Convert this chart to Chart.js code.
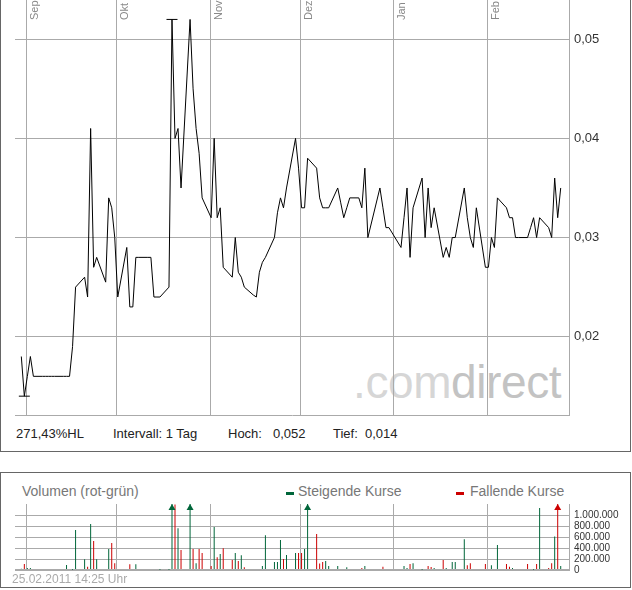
<!DOCTYPE html>
<html>
<head>
<meta charset="utf-8">
<script src="https://cdn.jsdelivr.net/npm/chart.js@4.4.1/dist/chart.umd.min.js"></script>
<style>
body { margin:0; background:#fff; }
#page { position:relative; width:632px; height:590px; overflow:hidden; font-family:"Liberation Sans", Arial, sans-serif; }
.abs { position:absolute; white-space:pre; }
.box { position:absolute; border:1px solid #666; box-sizing:border-box; }
.info { top:427px; font-size:13px; line-height:13px; color:#222; }
.leg { top:484px; font-size:14px; line-height:14px; color:#777; }
.dash { position:absolute; top:492px; width:8px; height:3px; }
#logo { left:353px; top:359px; font-size:46px; line-height:46px; letter-spacing:-0.4px; }
canvas { position:absolute; left:0; }
</style>
</head>
<body>
<div id="page">
  <div class="box" style="left:0;top:-10px;width:631px;height:462px;border-top:none"></div>
  <div class="box" style="left:0;top:472px;width:631px;height:116px"></div>

  <div class="abs" id="logo"><span style="color:#d6d6d6">.com</span><span style="color:#c3c3c3">direct</span></div>

  <canvas id="priceChart" width="632" height="420" style="top:0"></canvas>

  <div class="abs info" style="left:16px">271,43%HL</div>
  <div class="abs info" style="left:113px">Intervall: 1 Tag</div>
  <div class="abs info" style="left:228px">Hoch:</div>
  <div class="abs info" style="left:273px">0,052</div>
  <div class="abs info" style="left:333px">Tief:</div>
  <div class="abs info" style="left:365px">0,014</div>

  <div class="abs leg" style="left:22px">Volumen (rot-grün)</div>
  <div class="dash" style="left:286px;background:#00663a"></div>
  <div class="abs leg" style="left:298px">Steigende Kurse</div>
  <div class="dash" style="left:456px;background:#cc0000"></div>
  <div class="abs leg" style="left:470px">Fallende Kurse</div>

  <canvas id="volChart" width="632" height="110" style="top:470px"></canvas>

  <div class="abs" style="left:12px;top:573px;font-size:12px;line-height:12px;color:#aaa">25.02.2011 14:25 Uhr</div>
</div>

<script>
// Kursverlauf (Tagesschlusskurse)
var priceDates = [
  '2010-08-30','2010-08-31','2010-09-01','2010-09-02','2010-09-03',
  '2010-09-06','2010-09-07','2010-09-08','2010-09-09','2010-09-10',
  '2010-09-13','2010-09-14','2010-09-15','2010-09-16','2010-09-17',
  '2010-09-20','2010-09-21','2010-09-22','2010-09-23','2010-09-24',
  '2010-09-27','2010-09-28','2010-09-29','2010-09-30','2010-10-01',
  '2010-10-04','2010-10-05','2010-10-06','2010-10-07','2010-10-08',
  '2010-10-11','2010-10-12','2010-10-13','2010-10-14','2010-10-15',
  '2010-10-18','2010-10-19','2010-10-20','2010-10-21','2010-10-22',
  '2010-10-25','2010-10-26','2010-10-27','2010-10-28','2010-10-29',
  '2010-11-01','2010-11-02','2010-11-03','2010-11-04','2010-11-05',
  '2010-11-08','2010-11-09','2010-11-10','2010-11-11','2010-11-12',
  '2010-11-15','2010-11-16','2010-11-17','2010-11-18','2010-11-19',
  '2010-11-22','2010-11-23','2010-11-24','2010-11-25','2010-11-26',
  '2010-11-29','2010-11-30','2010-12-01','2010-12-02','2010-12-03',
  '2010-12-06','2010-12-07','2010-12-08','2010-12-09','2010-12-10',
  '2010-12-13','2010-12-14','2010-12-15','2010-12-16','2010-12-17',
  '2010-12-20','2010-12-21','2010-12-22','2010-12-23',
  '2010-12-27','2010-12-28','2010-12-29','2010-12-30',
  '2011-01-03','2011-01-04','2011-01-05','2011-01-06','2011-01-07',
  '2011-01-10','2011-01-11','2011-01-12','2011-01-13','2011-01-14',
  '2011-01-17','2011-01-18','2011-01-19','2011-01-20','2011-01-21',
  '2011-01-24','2011-01-25','2011-01-26','2011-01-27','2011-01-28',
  '2011-01-31','2011-02-01','2011-02-02','2011-02-03','2011-02-04',
  '2011-02-07','2011-02-08','2011-02-09','2011-02-10','2011-02-11',
  '2011-02-14','2011-02-15','2011-02-16','2011-02-17','2011-02-18',
  '2011-02-21','2011-02-22','2011-02-23','2011-02-24','2011-02-25'
];
var priceValues = [
  0.018, 0.014, 0.016, 0.018, 0.016,
  0.016, 0.016, 0.016, 0.016, 0.016,
  0.016, 0.016, 0.016, 0.019, 0.025,
  0.026, 0.024, 0.041, 0.027, 0.028,
  0.0255, 0.034, 0.033, 0.030, 0.024,
  0.029, 0.023, 0.023, 0.028, 0.028,
  0.028, 0.028, 0.024, 0.024, 0.024,
  0.025, 0.052, 0.040, 0.041, 0.035,
  0.052, 0.045, 0.041, 0.0385, 0.034,
  0.032, 0.040, 0.032, 0.033, 0.027,
  0.026, 0.030, 0.0265, 0.026, 0.025,
  0.0242, 0.024, 0.0265, 0.0275, 0.028,
  0.030, 0.0325, 0.034, 0.033, 0.035,
  0.040, 0.037, 0.033, 0.033, 0.038,
  0.037, 0.034, 0.033, 0.033, 0.033,
  0.035, 0.0335, 0.032, 0.033, 0.034,
  0.034, 0.033, 0.037, 0.030,
  0.035, 0.033, 0.031, 0.031,
  0.029, 0.032, 0.035, 0.028, 0.033,
  0.036, 0.030, 0.035, 0.031, 0.033,
  0.028, 0.029, 0.028, 0.030, 0.030,
  0.035, 0.032, 0.030, 0.029, 0.033,
  0.027, 0.027, 0.030, 0.029, 0.034,
  0.033, 0.032, 0.032, 0.030, 0.030,
  0.030, 0.031, 0.032, 0.030, 0.032,
  0.031, 0.030, 0.036, 0.032, 0.035
];

// Umsatz je Tag, Richtung 'up' = steigend (gruen), 'down' = fallend (rot)
var volDates = [
  '2010-08-30','2010-08-31','2010-09-01','2010-09-02','2010-09-03',
  '2010-09-14','2010-09-16','2010-09-17','2010-09-20','2010-09-21',
  '2010-09-22','2010-09-23','2010-09-24','2010-09-28','2010-09-29',
  '2010-09-30','2010-10-01','2010-10-04','2010-10-05','2010-10-06',
  '2010-10-07','2010-10-13','2010-10-14','2010-10-15','2010-10-18',
  '2010-10-19','2010-10-20','2010-10-21','2010-10-22','2010-10-25',
  '2010-10-26','2010-10-27','2010-10-28','2010-10-29','2010-11-01',
  '2010-11-02','2010-11-03','2010-11-04','2010-11-05','2010-11-08',
  '2010-11-09','2010-11-10','2010-11-11','2010-11-12','2010-11-17',
  '2010-11-18','2010-11-19','2010-11-22','2010-11-23','2010-11-24',
  '2010-11-25','2010-11-26','2010-11-29','2010-11-30','2010-12-01',
  '2010-12-02','2010-12-03','2010-12-06','2010-12-07','2010-12-08',
  '2010-12-09','2010-12-10','2010-12-13','2010-12-14','2010-12-16',
  '2010-12-17','2010-12-21','2010-12-22','2010-12-27','2010-12-28',
  '2010-12-30','2011-01-03','2011-01-04','2011-01-05','2011-01-06',
  '2011-01-07','2011-01-10','2011-01-12','2011-01-13','2011-01-14',
  '2011-01-17','2011-01-18','2011-01-20','2011-01-21','2011-01-24',
  '2011-01-25','2011-01-26','2011-01-28','2011-01-31','2011-02-02',
  '2011-02-03','2011-02-04','2011-02-07','2011-02-08','2011-02-09',
  '2011-02-14','2011-02-16','2011-02-17','2011-02-18','2011-02-21',
  '2011-02-22','2011-02-23','2011-02-24','2011-02-25'
];
var volValues = [
  25000, 110000, 36000, 36000, 18000,
  90000, 5000, 727000, 194000, 60000,
  836000, 527000, 194000, 382000, 491000,
  121000, 18000, 18000, 103000, 18000,
  103000, 18000, 18000, 6000, 6000,
  1450000, 1190000, 758000, 364000, 1400000,
  382000, 121000, 382000, 309000, 73000,
  782000, 230000, 291000, 394000, 182000,
  309000, 164000, 267000, 48000, 18000,
  73000, 630000, 145000, 145000, 545000,
  200000, 273000, 309000, 309000, 309000,
  382000, 1350000, 655000, 120000, 145000,
  164000, 73000, 73000, 18000, 48000,
  18000, 36000, 73000, 18000, 60000,
  18000, 18000, 73000, 36000, 110000,
  121000, 5000, 73000, 55000, 36000,
  182000, 36000, 145000, 145000, 558000,
  85000, 121000, 18000, 110000, 85000,
  18000, 455000, 110000, 60000, 36000,
  110000, 5000, 110000, 1126000, 36000,
  121000, 611000, 1500000, 73000
];
var volDir = [
  'up','down','up','up','down',
  'up','up','up','up','down',
  'up','down','up','up','down',
  'down','down','up','down','up',
  'up','down','down','up','up',
  'up','down','up','down','up',
  'down','up','down','down','down',
  'up','down','up','down','down',
  'up','down','up','down','up',
  'up','up','up','up','up',
  'down','up','up','down','down',
  'up','up','down','down','down',
  'up','up','up','down','up',
  'up','down','up','down','down',
  'down','down','up','up','down',
  'up','up','down','down','up',
  'down','up','up','up','up',
  'down','down','up','down','up',
  'down','up','down','down','up',
  'down','up','down','up','down',
  'down','up','down','up'
];

var monthStarts = ['2010-09-01','2010-10-01','2010-11-01','2010-12-01','2011-01-01','2011-02-01'];
var monthLabels = ['Sep','Okt','Nov','Dez','Jan','Feb'];
var priceTicks = [0.02, 0.03, 0.04, 0.05];
var volumeTicks = [0, 200000, 400000, 600000, 800000, 1000000];

var GREEN = '#00663a';
var RED = '#cc0000';
var GRID = '#aaaaaa';
var X_MIN = -3.75, X_MAX = 180.1;   // sichtbarer Zeitraum in Tagen ab 1. Sep
var DAY_SHIFT = 0.35;               // Kurs liegt etwas nach Tagesbeginn

function dayNum(s){
    var p = s.split('-');
    return (Date.UTC(+p[0], p[1]-1, +p[2]) - Date.UTC(2010, 8, 1)) / 86400000;
}

function monthTicks(scale){
    scale.ticks = monthStarts.map(function(d){ return {value: dayNum(d)}; });
}

function germanNumber(v){
    return String(v).replace(/\B(?=(\d{3})+(?!\d))/g, '.');
}

Chart.defaults.font.family = '"Liberation Sans", Arial, sans-serif';

var pricePoints = priceDates.map(function(d, i){
    return {x: dayNum(d) + DAY_SHIFT, y: priceValues[i]};
});
var hi = priceValues.indexOf(Math.max.apply(null, priceValues));
var lo = priceValues.indexOf(Math.min.apply(null, priceValues));
var hiLoPoints = [pricePoints[hi], pricePoints[lo]];

var monthLabelPlugin = {
    id: 'monthLabels',
    afterDraw: function(chart){
        var ctx = chart.ctx;
        var xs = chart.scales.x;
        ctx.save();
        ctx.fillStyle = '#888';
        ctx.font = '11px "Liberation Sans", Arial, sans-serif';
        ctx.textAlign = 'left';
        ctx.textBaseline = 'top';
        monthStarts.forEach(function(d, i){
            var px = xs.getPixelForValue(dayNum(d));
            ctx.save();
            ctx.translate(px + 3, 20);
            ctx.rotate(-Math.PI / 2);
            ctx.fillText(monthLabels[i], 0, 0);
            ctx.restore();
        });
        ctx.restore();
    }
};

new Chart(document.getElementById('priceChart').getContext('2d'), {
    type: 'line',
    data: {
        datasets: [
            {
                data: pricePoints,
                borderColor: '#000',
                borderWidth: 1,
                pointRadius: 0,
                pointHoverRadius: 0,
                tension: 0
            },
            {
                data: hiLoPoints,
                showLine: false,
                pointStyle: 'line',
                pointRadius: 5.5,
                pointBorderColor: '#000',
                pointBorderWidth: 1
            }
        ]
    },
    options: {
        responsive: false,
        animation: false,
        devicePixelRatio: 1,
        layout: {autoPadding: false, padding: {left: 15, right: 0, top: 0, bottom: 5}},
        plugins: {legend: {display: false}, tooltip: {enabled: false}},
        scales: {
            x: {
                type: 'linear',
                min: X_MIN,
                max: X_MAX,
                grid: {color: GRID, drawTicks: false},
                border: {display: true, color: GRID},
                ticks: {display: false},
                afterBuildTicks: monthTicks,
                afterFit: function(s){ s.height = 0; s.paddingLeft = 0; s.paddingRight = 0; }
            },
            y: {
                position: 'right',
                min: 0.0121,
                max: 0.05396,
                grid: {color: GRID, drawTicks: false},
                border: {display: true, color: GRID},
                ticks: {
                    padding: 5,
                    color: '#333',
                    font: {size: 13},
                    autoSkip: false,
                    callback: function(v){ return v.toFixed(2).replace('.', ','); }
                },
                afterBuildTicks: function(s){ s.ticks = priceTicks.map(function(v){ return {value: v}; }); },
                afterFit: function(s){ s.width = 63; s.paddingTop = 0; s.paddingBottom = 0; }
            }
        }
    },
    plugins: [monthLabelPlugin]
});

function volPoints(dir){
    var pts = [];
    volDates.forEach(function(d, i){
        if (volDir[i] == dir) pts.push({x: dayNum(d) + DAY_SHIFT, y: volValues[i]});
    });
    return pts;
}

var arrowPlugin = {
    id: 'volArrows',
    afterDatasetsDraw: function(chart){
        var ctx = chart.ctx;
        var xs = chart.scales.x, ys = chart.scales.y;
        var top = chart.chartArea.top;
        ctx.save();
        volDates.forEach(function(d, i){
            if (volValues[i] <= ys.max) return;
            var px = xs.getPixelForValue(dayNum(d) + DAY_SHIFT);
            ctx.fillStyle = volDir[i] == 'up' ? GREEN : RED;
            ctx.beginPath();
            ctx.moveTo(px, top);
            ctx.lineTo(px - 3.5, top + 6);
            ctx.lineTo(px + 3.5, top + 6);
            ctx.closePath();
            ctx.fill();
        });
        ctx.restore();
    }
};

new Chart(document.getElementById('volChart').getContext('2d'), {
    type: 'bar',
    data: {
        datasets: [
            {label: 'Steigende Kurse', data: volPoints('up'), backgroundColor: GREEN,
             barThickness: 1, grouped: false, inflateAmount: 0},
            {label: 'Fallende Kurse', data: volPoints('down'), backgroundColor: RED,
             barThickness: 1, grouped: false, inflateAmount: 0}
        ]
    },
    options: {
        responsive: false,
        animation: false,
        devicePixelRatio: 1,
        layout: {autoPadding: false, padding: {left: 15, right: 0, top: 34, bottom: 10}},
        plugins: {legend: {display: false}, tooltip: {enabled: false}},
        scales: {
            x: {
                type: 'linear',
                min: X_MIN,
                max: X_MAX,
                offset: false,
                grid: {color: GRID, drawTicks: false, offset: false},
                border: {display: false},
                ticks: {display: false},
                afterBuildTicks: monthTicks,
                afterFit: function(s){ s.height = 0; s.paddingLeft = 0; s.paddingRight = 0; }
            },
            y: {
                position: 'right',
                min: 0,
                max: 1200000,
                grid: {
                    color: GRID,
                    drawTicks: false,
                    lineWidth: function(c){ return c.tick && c.tick.value === 0 ? 2 : 1; }
                },
                border: {display: true, color: GRID},
                ticks: {
                    padding: 5,
                    color: '#333',
                    font: {size: 10},
                    autoSkip: false,
                    callback: function(v){ return germanNumber(v); }
                },
                afterBuildTicks: function(s){ s.ticks = volumeTicks.map(function(v){ return {value: v}; }); },
                afterFit: function(s){ s.width = 63; s.paddingTop = 0; s.paddingBottom = 0; }
            }
        }
    },
    plugins: [arrowPlugin]
});
</script>
</body>
</html>
